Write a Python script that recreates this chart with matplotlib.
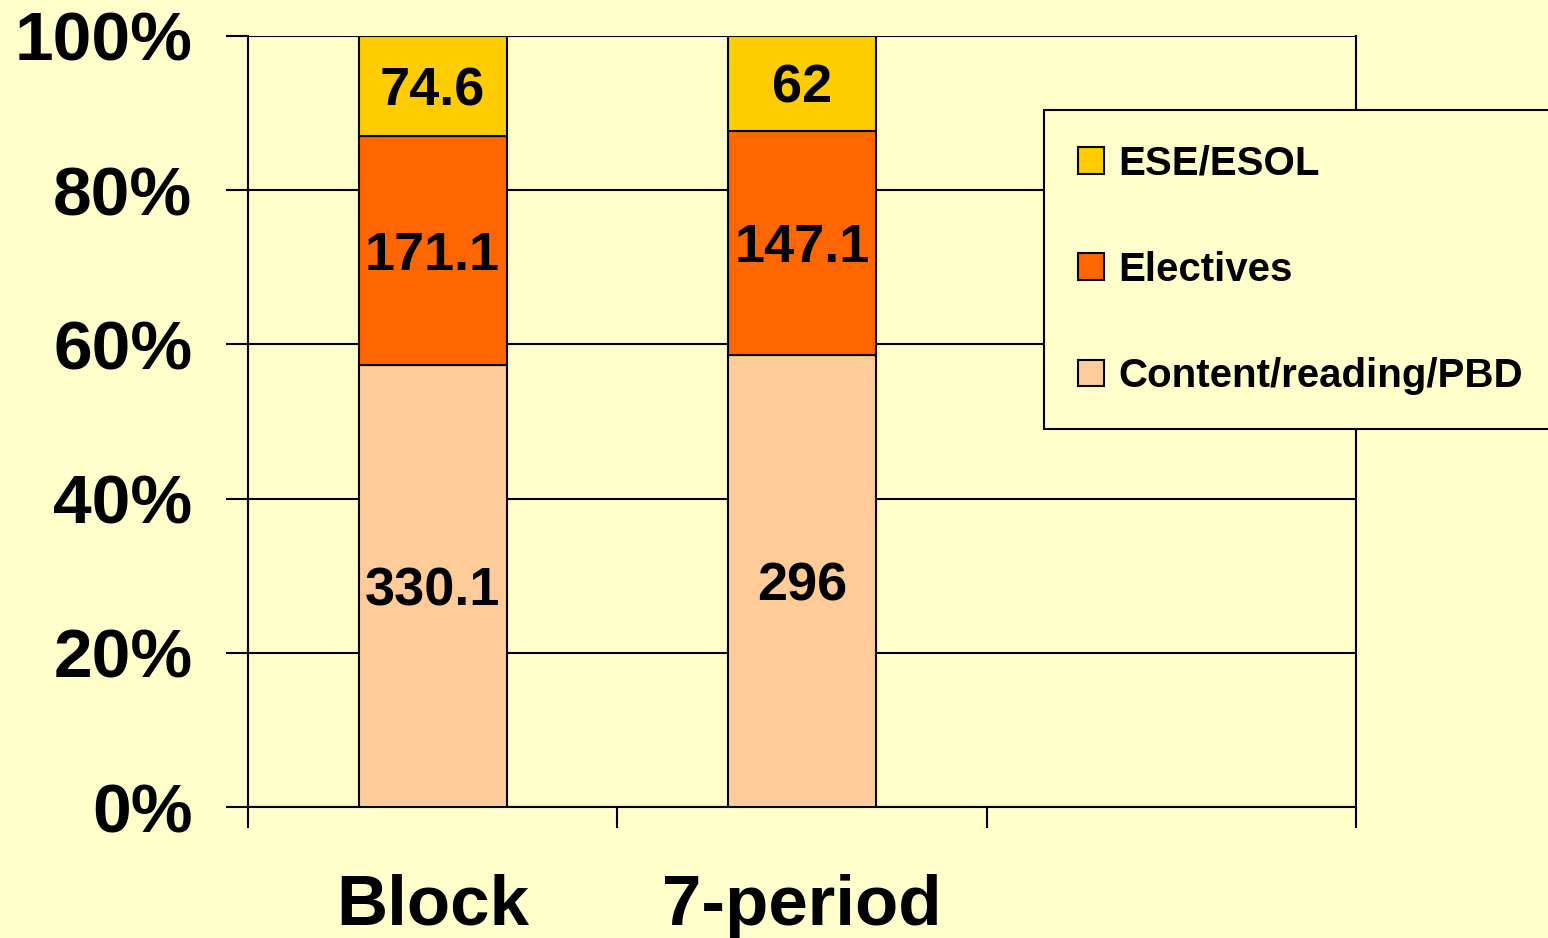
import numpy as np
import matplotlib
matplotlib.use("Agg")
import matplotlib.pyplot as plt
from matplotlib.ticker import FuncFormatter

plt.rcParams['font.family'] = ['Liberation Sans', 'DejaVu Sans']
plt.rcParams['font.weight'] = 'bold'

# data
groups = ['Block', '7-period']
content = [330.1, 296]
electives = [171.1, 147.1]
ese = [74.6, 62]
series_names = ['Content/reading/PBD', 'Electives', 'ESE/ESOL']
colors = ['#FFCC99', '#FF6600', '#FFCC00']

bg = '#FFFFCC'
fig = plt.figure(figsize=(15.48, 9.38), dpi=100, facecolor=bg)
ax = fig.add_axes([248/1548, 1-807/938, (1356-248)/1548, (807-36)/938])
ax.set_facecolor(bg)

vals = np.array([content, electives, ese], dtype=float)
pct = vals / vals.sum(axis=0) * 100
x = np.arange(len(groups)) + 0.5

bottom = np.zeros(len(groups))
for i in range(3):
    ax.bar(x, pct[i], 0.4, bottom=bottom, color=colors[i],
           edgecolor='black', linewidth=1.5, label=series_names[i], zorder=3)
    for j in range(len(groups)):
        ax.text(x[j], bottom[j] + pct[i, j] / 2, '%g' % vals[i, j],
                ha='center', va='center_baseline',
                fontsize=39, fontweight='bold', zorder=4)
    bottom += pct[i]

ax.set_xlim(0, 3)
ax.set_ylim(0, 100)
ax.set_yticks(np.arange(0, 101, 20))
ax.yaxis.set_major_formatter(FuncFormatter(lambda v, p: '%d%%' % v))
ax.tick_params(axis='y', length=16, width=1.5, pad=24, labelsize=50)
ax.grid(axis='y', color='black', linewidth=1.5, zorder=1)

ax.set_xticks(x)
ax.set_xticklabels(groups)
ax.set_xticks([0, 1, 2, 3], minor=True)
ax.tick_params(axis='x', which='major', length=0, pad=48, labelsize=51)
ax.tick_params(axis='x', which='minor', length=15, width=1.5)

for s in ['left', 'right', 'bottom']:
    ax.spines[s].set_linewidth(1.5)
ax.spines['top'].set_visible(False)

handles, labels = ax.get_legend_handles_labels()
leg = fig.legend(handles[::-1], labels[::-1], loc='upper left',
                 bbox_to_anchor=(1044/1548, 1-110/938),
                 prop={'size': 29, 'weight': 'bold'},
                 frameon=True, fancybox=False, edgecolor='black',
                 facecolor=bg, framealpha=1,
                 handlelength=0.65, handleheight=0.65, handletextpad=0.35,
                 labelspacing=1.7, borderpad=0.85, borderaxespad=0)
leg.get_frame().set_linewidth(1.5)
for h in leg.legend_handles:
    h.set_linewidth(1.5)

fig.savefig('out.png', dpi=100, facecolor=bg)
